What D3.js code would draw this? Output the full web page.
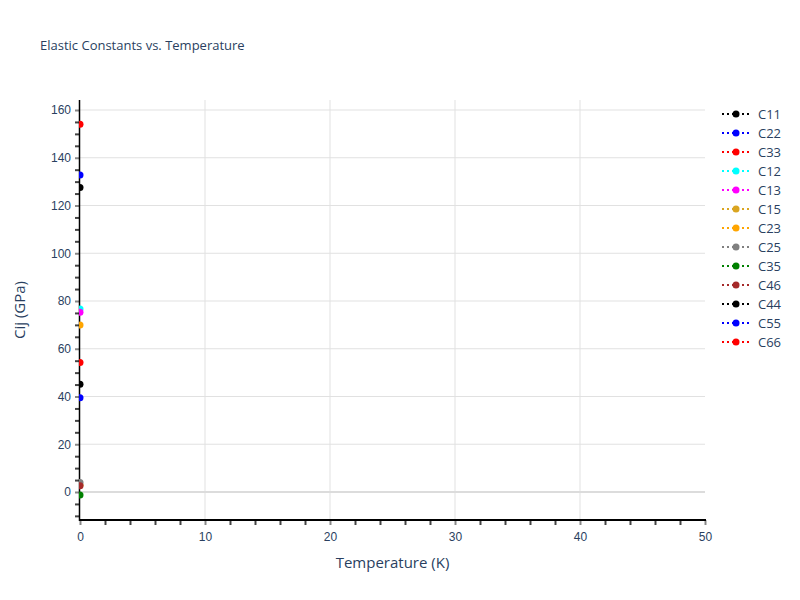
<!DOCTYPE html>
<html>
<head>
<meta charset="utf-8">
<script src="https://cdn.jsdelivr.net/npm/d3@7"></script>
<style>
  body { margin: 0; background: #fff; }
  #chart { width: 800px; height: 600px; }
</style>
</head>
<body>
<div id="chart"></div>
<script>
// data: one point per constant, all at T = 0 K
var names = ["C11", "C22", "C33", "C12", "C13", "C15", "C23", "C25", "C35", "C46", "C44", "C55", "C66"];
var colors = ["black", "blue", "red", "cyan", "magenta", "goldenrod", "orange", "gray", "green", "brown", "black", "blue", "red"];
var temps = [0, 0, 0, 0, 0, 0, 0, 0, 0, 0, 0, 0, 0];
var values = [127.5, 132.8, 154.0, 76.6, 75.3, 2.8, 69.9, 4.0, -1.3, 2.6, 45.1, 39.5, 54.2];
var xTicks = [0, 10, 20, 30, 40, 50];
var yTicks = [0, 20, 40, 60, 80, 100, 120, 140, 160];

var width = 800, height = 600;
var padding = { left: 80, right: 95, top: 100, bottom: 80 };
var textColor = "#2a3f5f";

var svg = d3.select("#chart")
    .append("svg")
    .attr("width", width)
    .attr("height", height)
    .attr("font-family", "'Open Sans', 'Liberation Sans', sans-serif");

var x_scale = d3.scaleLinear()
    .domain([0, 50])
    .range([padding.left, width - padding.right]);
var y_scale = d3.scaleLinear()
    .domain([-11.73, 164.19])
    .range([height - padding.bottom, padding.top]);

// grid lines
svg.append("g")
    .selectAll("line")
    .data(xTicks.filter(d => d > 0 && d < 50))
    .join("line")
    .attr("x1", d => x_scale(d)).attr("x2", d => x_scale(d))
    .attr("y1", padding.top).attr("y2", height - padding.bottom)
    .attr("stroke", "#e1e1e1").attr("stroke-width", 1);
svg.append("g")
    .selectAll("line")
    .data(yTicks.filter(d => d !== 0))
    .join("line")
    .attr("x1", padding.left).attr("x2", width - padding.right)
    .attr("y1", d => y_scale(d)).attr("y2", d => y_scale(d))
    .attr("stroke", "#e1e1e1").attr("stroke-width", 1);
// zero line
svg.append("line")
    .attr("x1", padding.left).attr("x2", width - padding.right)
    .attr("y1", y_scale(0)).attr("y2", y_scale(0))
    .attr("stroke", "#dcdcdc").attr("stroke-width", 2);

// minor ticks
var x_minor = d3.axisBottom(x_scale)
    .tickValues(d3.range(0, 51, 2).filter(d => d % 10 !== 0))
    .tickSize(5).tickFormat("");
var y_minor = d3.axisLeft(y_scale)
    .tickValues(d3.range(-10, 165, 5).filter(d => d % 20 !== 0))
    .tickSize(5).tickFormat("");

var x_axis = d3.axisBottom(x_scale)
    .tickValues(xTicks)
    .tickSize(5)
    .tickPadding(7);
var y_axis = d3.axisLeft(y_scale)
    .tickValues(yTicks)
    .tickSize(5)
    .tickPadding(4);

function styleAxis(g, major) {
    g.select(".domain").remove();
    g.selectAll(".tick line").attr("stroke", major ? "#888" : "#444").attr("stroke-width", 2);
    g.selectAll(".tick text").attr("fill", textColor).attr("font-size", 12);
}

svg.append("g")
    .attr("transform", "translate(0," + (height - padding.bottom) + ")")
    .call(x_minor).call(g => styleAxis(g, false));
svg.append("g")
    .attr("transform", "translate(" + padding.left + ",0)")
    .call(y_minor).call(g => styleAxis(g, false));
svg.append("g")
    .attr("transform", "translate(0," + (height - padding.bottom) + ")")
    .call(x_axis).call(g => styleAxis(g, true));
svg.append("g")
    .attr("transform", "translate(" + padding.left + ",0)")
    .call(y_axis).call(g => styleAxis(g, true));

// axis lines
svg.append("line")
    .attr("x1", padding.left - 1).attr("x2", width - padding.right + 1)
    .attr("y1", height - padding.bottom).attr("y2", height - padding.bottom)
    .attr("stroke", "black").attr("stroke-width", 2);
svg.append("line")
    .attr("x1", padding.left - 0.5).attr("x2", padding.left - 0.5)
    .attr("y1", padding.top).attr("y2", height - padding.bottom + 1)
    .attr("stroke", "black").attr("stroke-width", 1.5);

// points on top, clipped to the plot area
svg.append("clipPath").attr("id", "plotclip")
    .append("rect")
    .attr("x", padding.left - 1).attr("y", padding.top)
    .attr("width", width - padding.left - padding.right + 1)
    .attr("height", height - padding.top - padding.bottom);

var series = names.map((n, i) => ({ name: n, color: colors[i], t: temps[i], v: values[i] }));

svg.append("g")
    .attr("clip-path", "url(#plotclip)")
    .selectAll("circle")
    .data(series)
    .join("circle")
    .attr("cx", d => x_scale(d.t))
    .attr("cy", d => y_scale(d.v))
    .attr("r", 3.5)
    .attr("fill", d => d.color);

// titles
svg.append("text")
    .attr("x", 40).attr("y", 50)
    .attr("fill", textColor).attr("font-size", 13)
    .text("Elastic Constants vs. Temperature");
svg.append("text")
    .attr("x", (padding.left + width - padding.right) / 2).attr("y", 568)
    .attr("text-anchor", "middle")
    .attr("fill", textColor).attr("font-size", 15)
    .text("Temperature (K)");
svg.append("text")
    .attr("transform", "translate(25," + (padding.top + height - padding.bottom) / 2 + ") rotate(-90)")
    .attr("text-anchor", "middle")
    .attr("fill", textColor).attr("font-size", 15)
    .text("Cij (GPa)");

// legend
var legend = svg.append("g")
    .attr("transform", "translate(722,114)");
var item = legend.selectAll("g")
    .data(series)
    .join("g")
    .attr("transform", (d, i) => "translate(0," + i * 19 + ")");
item.append("line")
    .attr("x1", 0).attr("x2", 28)
    .attr("stroke", d => d.color).attr("stroke-width", 2)
    .attr("stroke-dasharray", "2,3");
item.append("circle")
    .attr("cx", 14).attr("r", 3.5)
    .attr("fill", d => d.color);
item.append("text")
    .attr("x", 36).attr("dy", "0.35em")
    .attr("fill", textColor).attr("font-size", 13)
    .text(d => d.name);
</script>
</body>
</html>
